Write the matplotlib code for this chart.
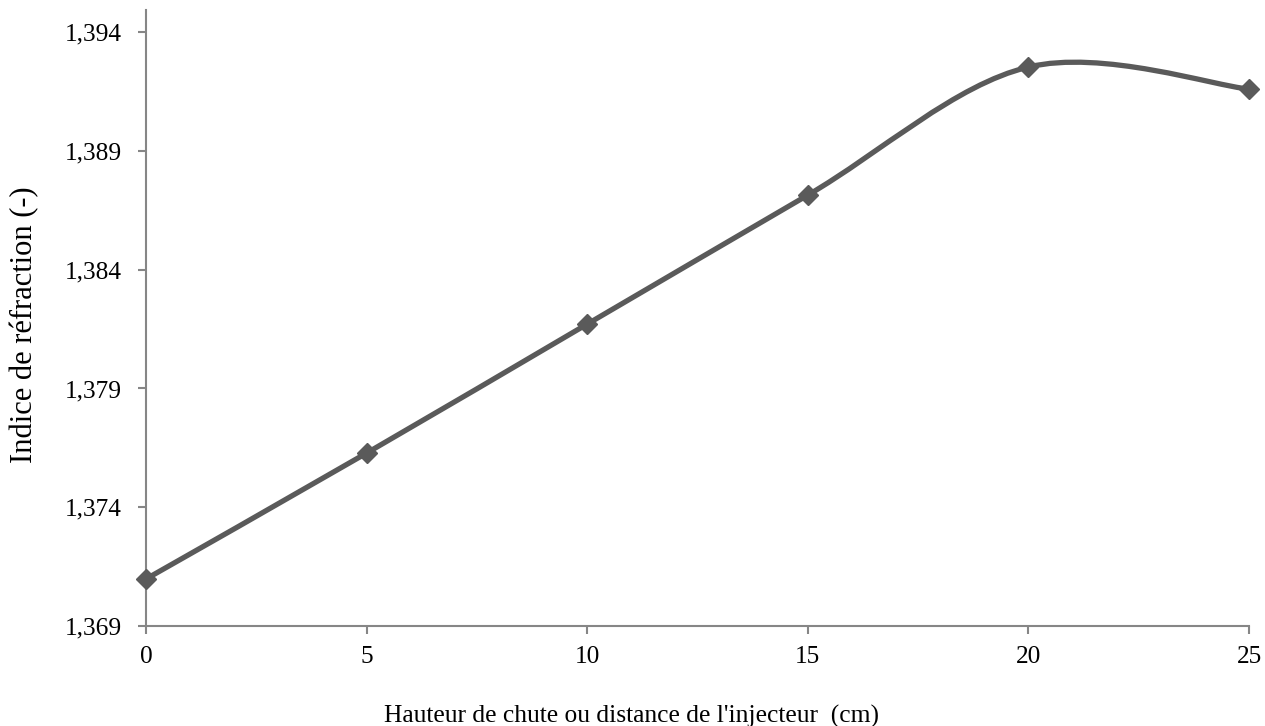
import matplotlib.pyplot as plt
from matplotlib.path import Path
from matplotlib.patches import PathPatch
from matplotlib.ticker import FuncFormatter

plt.rcParams["font.family"] = ["Liberation Serif", "DejaVu Serif"]

# data
hauteur = [0, 5, 10, 15, 20, 25]
indice = [1.37098, 1.37628, 1.38171, 1.38714, 1.39253, 1.39160]
y_ticks = [1.369, 1.374, 1.379, 1.384, 1.389, 1.394]
x_ticks = [0, 5, 10, 15, 20, 25]

line_color = "#5a5a5a"
axis_color = "#868686"


def smooth_path(xs, ys):
    # Excel-like smoothed line: cubic Bezier segments through every point
    pts = list(zip(xs, ys))
    n = len(pts)
    verts = [pts[0]]
    codes = [Path.MOVETO]
    for i in range(n - 1):
        p0 = pts[i - 1] if i > 0 else pts[i]
        p1 = pts[i]
        p2 = pts[i + 1]
        p3 = pts[i + 2] if i + 2 < n else pts[i + 1]
        c1 = (p1[0] + (p2[0] - p0[0]) / 6, p1[1] + (p2[1] - p0[1]) / 6)
        c2 = (p2[0] - (p3[0] - p1[0]) / 6, p2[1] - (p3[1] - p1[1]) / 6)
        verts += [c1, c2, p2]
        codes += [Path.CURVE4] * 3
    return Path(verts, codes)


fig = plt.figure(figsize=(12.65, 7.26), dpi=100)
ax = fig.add_axes([0.1154, 0.1377, 0.8720, 0.8485])

ax.add_patch(PathPatch(smooth_path(hauteur, indice), facecolor="none",
                       edgecolor=line_color, lw=3.8, capstyle="round", zorder=2))
ax.plot(hauteur, indice, linestyle="none", marker="D", markersize=10,
        color=line_color, zorder=3, clip_on=False)

ax.set_xlim(0, 25)
ax.set_ylim(1.369, 1.39493)
ax.set_xticks(x_ticks)
ax.set_yticks(y_ticks)
ax.yaxis.set_major_formatter(FuncFormatter(lambda v, p: f"{v:.3f}".replace(".", ",")))

for side in ["top", "right"]:
    ax.spines[side].set_visible(False)
for side in ["left", "bottom"]:
    ax.spines[side].set_color(axis_color)
    ax.spines[side].set_linewidth(1.5)

ax.tick_params(axis="both", direction="out", length=5.5, width=1.5,
               color=axis_color, labelsize=18.3, labelcolor="black")
ax.tick_params(axis="x", pad=9)
ax.tick_params(axis="y", pad=12)

# axis titles placed like in the reference (x title centred on the figure)
fig.text(0.4996, 0.005, "Hauteur de chute ou distance de l'injecteur  (cm)",
         fontsize=18.4, ha="center", va="baseline")
fig.text(0.0198, 0.5523, "Indice de réfraction (-)", fontsize=22,
         rotation=90, ha="center", va="center")

fig.savefig("out.png", dpi=100)
